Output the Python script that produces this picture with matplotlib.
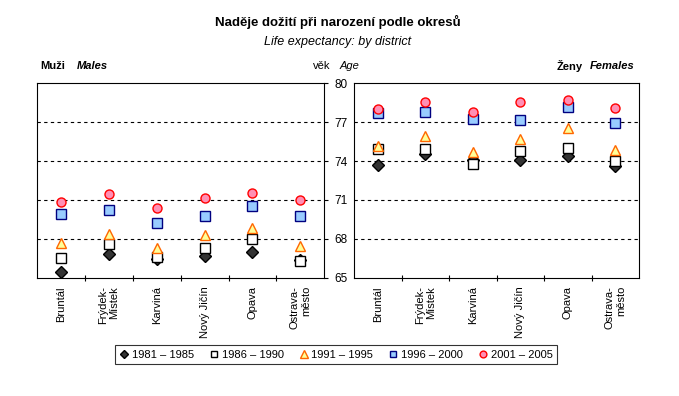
"""
Naděje dožití při narození podle okresů, muži a ženy.
"""

import matplotlib
matplotlib.use('Agg')
import matplotlib.pyplot as plt

plt.rcParams['font.family'] = ['Liberation Sans', 'DejaVu Sans']

# Data
districts = ['Bruntál', 'Frýdek-\nMístek', 'Karviná', 'Nový Jičín', 'Opava', 'Ostrava-\nměsto']
periods = ['1981 – 1985', '1986 – 1990', '1991 – 1995', '1996 – 2000', '2001 – 2005']

males_1981 = [65.44, 66.81, 66.47, 66.65, 66.96, 66.37]
males_1986 = [66.54, 67.58, 66.62, 67.31, 68.01, 66.31]
males_1991 = [67.65, 68.35, 67.27, 68.27, 68.86, 67.42]
males_1996 = [69.94, 70.25, 69.24, 69.78, 70.56, 69.78]
males_2001 = [70.82, 71.44, 70.40, 71.13, 71.54, 71.02]

females_1981 = [73.72, 74.57, 74.05, 74.11, 74.42, 73.59]
females_1986 = [74.90, 74.93, 73.77, 74.77, 75.00, 74.00]
females_1991 = [75.19, 75.93, 74.73, 75.70, 76.55, 74.88]
females_1996 = [77.70, 77.76, 77.24, 77.14, 78.17, 76.93]
females_2001 = [78.04, 78.53, 77.78, 78.53, 78.71, 78.09]

yticks = [65, 68, 71, 74, 77, 80]

# Styl značek pro jednotlivá období
styles = [
    dict(marker='D', mfc='#333333', mec='#000000', ms=6.0),
    dict(marker='s', mfc='white', mec='#000000', ms=6.5),
    dict(marker='^', mfc='#FFFF99', mec='#FF6600', ms=7.5),
    dict(marker='s', mfc='#99CCFF', mec='#000080', ms=6.5),
    dict(marker='o', mfc='#FF8FB4', mec='#FF0000', ms=6.5),
]

W, H = 679, 396
fig = plt.figure(figsize=(W / 100, H / 100), dpi=100)


def px_axes(x0, y0, x1, y1):
    return fig.add_axes([x0 / W, 1 - y1 / H, (x1 - x0) / W, (y1 - y0) / H])


ax_m = px_axes(37, 83.3, 324.3, 277.7)
ax_f = px_axes(354.3, 83.3, 639, 277.7)

xs = [i + 0.5 for i in range(len(districts))]

for ax, series in [(ax_m, [males_1981, males_1986, males_1991, males_1996, males_2001]),
                   (ax_f, [females_1981, females_1986, females_1991, females_1996, females_2001])]:
    for vals, st, lab in zip(series, styles, periods):
        ax.plot(xs, vals, linestyle='none', marker=st['marker'], markerfacecolor=st['mfc'],
                markeredgecolor=st['mec'], markersize=st['ms'], markeredgewidth=1.0,
                label=lab, zorder=3)
    ax.set_xlim(0, 6)
    ax.set_ylim(65, 80)
    ax.set_yticks(yticks)
    for y in yticks[1:-1]:
        ax.axhline(y, color='black', linestyle=(0, (3, 3)), linewidth=0.8, zorder=1)
    # hlavní značky na hranicích okresů, popisky jako vedlejší značky
    ax.set_xticks(range(1, 6))
    ax.set_xticklabels([])
    ax.tick_params(axis='x', direction='inout', length=5, width=0.8)
    ax.set_xticks(xs, minor=True)
    ax.set_xticklabels(districts, minor=True, rotation=90, fontsize=8, va='top',
                       ha='center', multialignment='right')
    ax.tick_params(axis='x', which='minor', length=0, pad=6)
    for sp in ax.spines.values():
        sp.set_linewidth(0.8)

ax_m.yaxis.tick_right()
ax_m.tick_params(axis='y', direction='out', length=3, width=0.8, labelsize=8.5, pad=4)
ax_f.tick_params(axis='y', left=False, labelleft=False)

# Nadpisy
fig.text(338 / W, 1 - 22 / H, 'Naděje dožití při narození podle okresů', ha='center', va='center',
         fontsize=9.5, fontweight='bold')
fig.text(338 / W, 1 - 42 / H, 'Life expectancy: by district', ha='center', va='center',
         fontsize=9, style='italic')
fig.text(40 / W, 1 - 66 / H, 'Muži', ha='left', va='center', fontsize=8, fontweight='bold')
fig.text(77 / W, 1 - 66 / H, 'Males', ha='left', va='center', fontsize=8, fontweight='bold',
         style='italic')
fig.text(313 / W, 1 - 66 / H, 'věk', ha='left', va='center', fontsize=8)
fig.text(340 / W, 1 - 66 / H, 'Age', ha='left', va='center', fontsize=8, style='italic')
fig.text(557 / W, 1 - 66 / H, 'Ženy', ha='left', va='center', fontsize=8, fontweight='bold')
fig.text(590 / W, 1 - 66 / H, 'Females', ha='left', va='center', fontsize=8, fontweight='bold',
         style='italic')

handles, labels = ax_m.get_legend_handles_labels()
leg = fig.legend(handles, labels, loc='center', bbox_to_anchor=(336 / W, 1 - 354.5 / H),
                 ncol=5, fontsize=8, frameon=True, fancybox=False, edgecolor='black',
                 handlelength=0.8, handletextpad=0.3, columnspacing=1.4, borderpad=0.4,
                 markerscale=0.75)
leg.get_frame().set_linewidth(0.8)

fig.savefig('out.png', dpi=100)
